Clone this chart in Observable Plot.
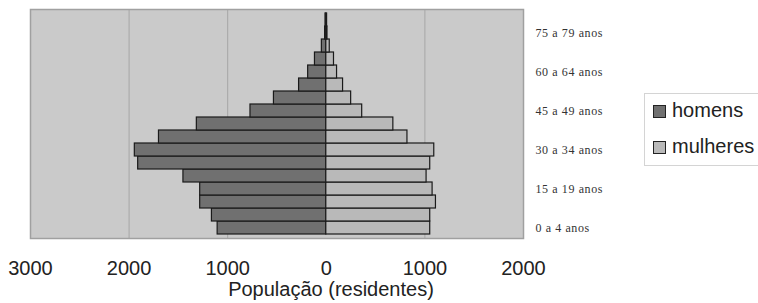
<!DOCTYPE html>
<html>
<head>
<meta charset="utf-8">
<script src="https://cdn.jsdelivr.net/npm/d3@7"></script>
<script src="https://cdn.jsdelivr.net/npm/@observablehq/plot@0.6"></script>
<style>
  html, body { margin: 0; padding: 0; background: #fff; }
  #wrap { position: relative; width: 758px; height: 303px; overflow: hidden; }
  #title { position: absolute; left: 0; top: 278px; width: 662px; text-align: center;
           font-family: "Liberation Sans", Arial, sans-serif; font-size: 20px; color: #222; }
  #legend { position: absolute; left: 644px; top: 93px; width: 130px; height: 71px;
            border: 1px solid #d4d4d4; background: #fff;
            font-family: "Liberation Sans", Arial, sans-serif; font-size: 20px; color: #222; }
  .item { position: absolute; left: 8px; height: 20px; line-height: 20px; }
  .sw { display: inline-block; width: 11px; height: 11px; border: 1.5px solid #222; vertical-align: -1px; margin-right: 6px; }
  g[aria-label="y-axis tick label"] text { letter-spacing: 0.6px; }
</style>
</head>
<body>
<div id="wrap">
  <div id="chart"></div>
  <div id="legend"></div>
  <div id="title"></div>
</div>
<script>
const ages = ["0 a 4 anos","5 a 9 anos","10 a 14 anos","15 a 19 anos","20 a 24 anos","25 a 29 anos",
  "30 a 34 anos","35 a 39 anos","40 a 44 anos","45 a 49 anos","50 a 54 anos","55 a 59 anos",
  "60 a 64 anos","65 a 69 anos","70 a 74 anos","75 a 79 anos","80 a 84 anos"];
const homens   = [1102,1160,1279,1279,1449,1908,1942,1697,1313,769,531,276,184,115,45,12,8];
const mulheres = [1054,1054,1112,1078,1017,1054,1095,823,680,364,252,170,109,78,35,12,8];
const ageTicks = ["0 a 4 anos","15 a 19 anos","30 a 34 anos","45 a 49 anos","60 a 64 anos","75 a 79 anos"];
const xTicks = [-3000,-2000,-1000,0,1000,2000];
const gridTicks = [-2000,-1000,1000];
const seriesNames = ["homens","mulheres"];
const seriesColors = ["#707070","#b9b9b9"];
const xTitle = "População (residentes)";

const rows = [];
ages.forEach((a,i) => {
  rows.push({age: a, sex: "homens", x1: 0, x2: -homens[i]});
  rows.push({age: a, sex: "mulheres", x1: 0, x2: mulheres[i]});
});

const chart = Plot.plot({
  width: 758,
  height: 280,
  marginLeft: 30,
  marginRight: 235,
  marginTop: 9,
  marginBottom: 42,
  style: {fontFamily: "'Liberation Sans', Arial, sans-serif", color: "#222", background: "transparent"},
  x: {domain: [-3000, 2000]},
  y: {type: "band", domain: ages.slice().reverse(), padding: 0},
  color: {domain: seriesNames, range: seriesColors},
  marks: [
    Plot.frame({fill: "#cacaca", stroke: "none"}),
    Plot.ruleX(gridTicks, {stroke: "#a6a6a6", strokeWidth: 1}),
    Plot.frame({stroke: "#a0a0a0", strokeWidth: 1.5}),
    Plot.barX(rows, {y: "age", x1: "x1", x2: "x2", fill: "sex", stroke: "#1a1a1a", strokeWidth: 1.2, inset: 0}),
    Plot.axisX({ticks: xTicks, tickFormat: d => String(Math.abs(d)), tickSize: 0, tickPadding: 22, label: null, fontSize: 20}),
    Plot.axisY({anchor: "right", ticks: ageTicks, tickSize: 0, tickPadding: 12, label: null,
                fontSize: 12, fontFamily: "'Liberation Serif', 'Times New Roman', serif", fill: "#333"})
  ]
});
document.getElementById("chart").appendChild(chart);
document.getElementById("title").textContent = xTitle;

const legend = document.getElementById("legend");
seriesNames.forEach((n, i) => {
  const it = document.createElement("div");
  it.className = "item";
  it.style.top = (i === 0 ? 6 : 42) + "px";
  const sw = document.createElement("span");
  sw.className = "sw";
  sw.style.background = seriesColors[i];
  it.appendChild(sw);
  it.appendChild(document.createTextNode(n));
  legend.appendChild(it);
});
</script>
</body>
</html>
